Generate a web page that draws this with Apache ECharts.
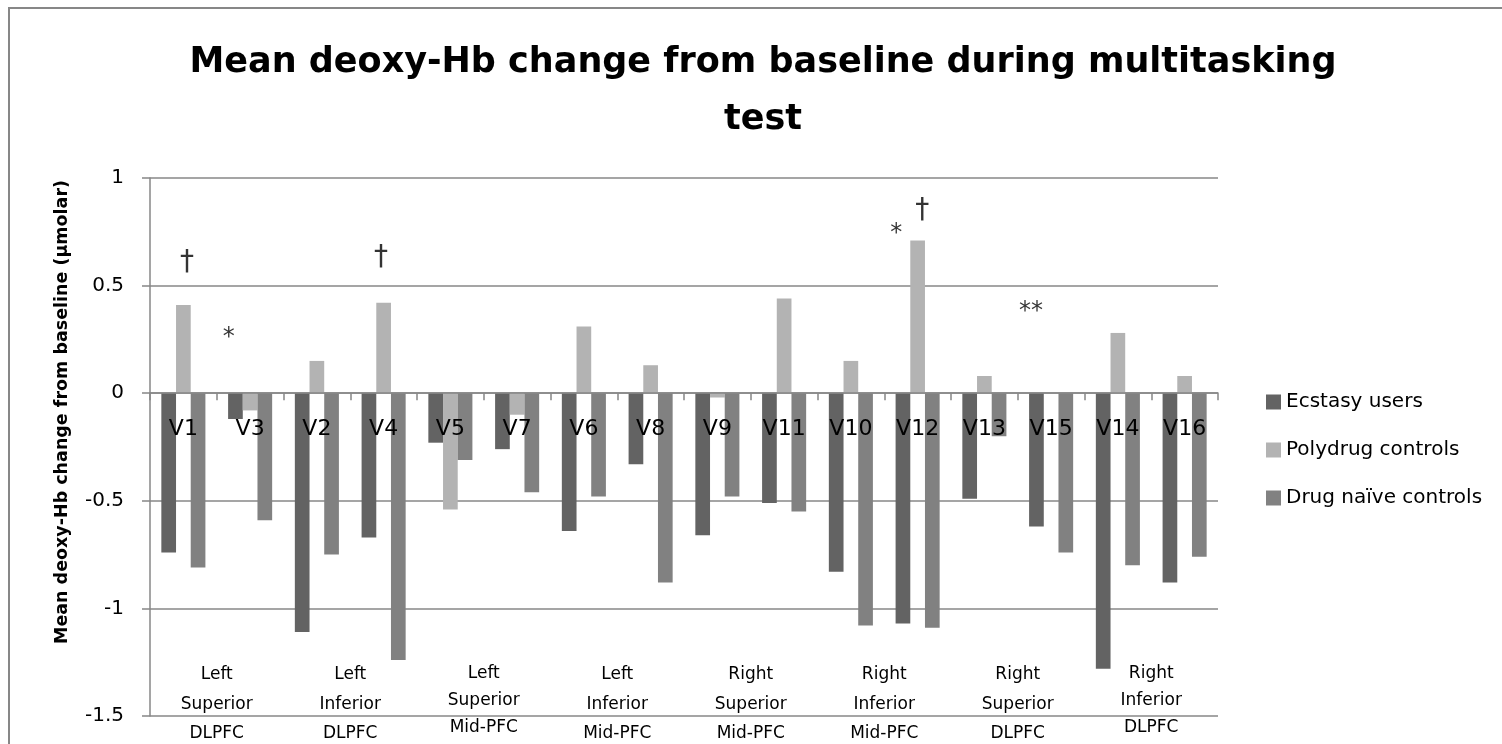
<!DOCTYPE html>
<html>
<head>
<meta charset="utf-8">
<script src="https://cdn.jsdelivr.net/npm/echarts@6/dist/echarts.min.js"></script>
<style>html,body{margin:0;padding:0;background:#fff}#c{width:1502px;height:744px}</style>
</head>
<body>
<div id="c"></div>
<script>
const categories = ['V1','V3','V2','V4','V5','V7','V6','V8','V9','V11','V10','V12','V13','V15','V14','V16'];
const ecstasyUsers = [-0.74,-0.12,-1.11,-0.67,-0.23,-0.26,-0.64,-0.33,-0.66,-0.51,-0.83,-1.07,-0.49,-0.62,-1.28,-0.88];
const polydrugControls = [0.41,-0.08,0.15,0.42,-0.54,-0.10,0.31,0.13,-0.02,0.44,0.15,0.71,0.08,0.00,0.28,0.08];
const drugNaiveControls = [-0.81,-0.59,-0.75,-1.24,-0.31,-0.46,-0.48,-0.88,-0.48,-0.55,-1.08,-1.09,-0.20,-0.74,-0.80,-0.76];
const regions = ['Left\nSuperior\nDLPFC','Left\nInferior\nDLPFC','Left\nSuperior\nMid-PFC','Left\nInferior\nMid-PFC','Right\nSuperior\nMid-PFC','Right\nInferior\nMid-PFC','Right\nSuperior\nDLPFC','Right\nInferior\nDLPFC'];
const seriesNames = ['Ecstasy users','Polydrug controls','Drug naïve controls'];
// significance markers: position in category units along x, value on y axis
const annoX = [0.554, 1.18, 3.46, 11.18, 11.57, 13.2];
const annoY = [0.605, 0.28, 0.63, 0.763, 0.85, 0.40];
const annoText = ['†','*','†','*','†','**'];
const yTicks = {min: -1.5, max: 1, interval: 0.5};

const FONT = 'DejaVu Sans';
const GRID = '#878787';
const gridH = 538;
// move category axis to the value 0 line
const zeroOffset = -gridH * (0 - yTicks.min) / (yTicks.max - yTicks.min);
// region text boxes that are set slightly tighter in the original
const tightRegionIdx = [2, 7];

const chart = echarts.init(document.getElementById('c'), null, {renderer: 'canvas'});

const annoData = annoX.map((x, i) => ({
  value: [x, annoY[i]],
  label: {
    formatter: annoText[i],
    fontSize: annoText[i] === '†' ? 28 : 24,
    offset: annoText[i] === '†' ? [0, 0] : [0, 5]
  }
}));

const regionData = regions.map((r, i) => tightRegionIdx.includes(i)
  ? {value: r, textStyle: {lineHeight: 27}}
  : r);

chart.setOption({
  animation: false,
  backgroundColor: '#fff',
  textStyle: {fontFamily: FONT, color: '#000'},
  title: {
    text: 'Mean deoxy-Hb change from baseline during multitasking\ntest',
    left: 758, textAlign: 'center', top: 29,
    textStyle: {fontFamily: FONT, fontWeight: 'bold', fontSize: 35, lineHeight: 57, color: '#000'}
  },
  graphic: [{
    type: 'rect', silent: true,
    shape: {x: 9, y: 8, width: 2000, height: 2000},
    style: {fill: 'none', stroke: GRID, lineWidth: 2}
  }],
  legend: {
    orient: 'vertical', left: 1261, top: 387,
    data: seriesNames,
    icon: 'rect', itemWidth: 15, itemHeight: 15, itemGap: 28,
    textStyle: {fontFamily: FONT, fontSize: 20, lineHeight: 20, color: '#000'}
  },
  grid: {left: 150, top: 178, width: 1068, height: gridH, containLabel: false, outerBoundsMode: 'none'},
  xAxis: [{
    type: 'category', data: categories, z: 10,
    position: 'bottom', offset: zeroOffset,
    axisLine: {onZero: false, lineStyle: {color: GRID, width: 1.5}},
    axisTick: {show: true, interval: 0, length: 7, lineStyle: {color: GRID, width: 1.5}},
    axisLabel: {interval: 0, margin: 25, fontFamily: FONT, fontSize: 22, color: '#000'},
    splitLine: {show: false}
  }, {
    type: 'category', data: regionData, position: 'bottom', z: 10,
    axisLine: {show: false, onZero: false}, axisTick: {show: false},
    axisLabel: {interval: 0, margin: -56, fontFamily: FONT, fontSize: 17, lineHeight: 29.5, color: '#000', align: 'center'},
    splitLine: {show: false}
  }, {
    type: 'value', min: 0, max: 16, show: false
  }],
  yAxis: {
    type: 'value', min: yTicks.min, max: yTicks.max, interval: yTicks.interval,
    name: 'Mean deoxy-Hb change from baseline (µmolar)',
    nameLocation: 'middle', nameGap: 79,
    nameTextStyle: {fontFamily: FONT, fontWeight: 'bold', fontSize: 17.5, color: '#000', padding: [0, 0, 0, 70]},
    axisLine: {show: true, onZero: false, lineStyle: {color: GRID, width: 1.5}},
    axisTick: {show: true, length: 8, lineStyle: {color: GRID, width: 1.5}},
    axisLabel: {margin: 26, fontFamily: FONT, fontSize: 20, color: '#000'},
    splitLine: {show: true, lineStyle: {color: GRID, width: 1.5}}
  },
  series: [
    {name: seriesNames[0], type: 'bar', data: ecstasyUsers, itemStyle: {color: '#636363'}, barGap: '0%', barCategoryGap: '34%'},
    {name: seriesNames[1], type: 'bar', data: polydrugControls, itemStyle: {color: '#b3b3b3'}, barGap: '0%', barCategoryGap: '34%'},
    {name: seriesNames[2], type: 'bar', data: drugNaiveControls, itemStyle: {color: '#818181'}, barGap: '0%', barCategoryGap: '34%'},
    {
      name: 'markers', type: 'scatter', xAxisIndex: 2, yAxisIndex: 0,
      symbolSize: 1, itemStyle: {color: 'rgba(0,0,0,0)'}, z: 12,
      label: {show: true, position: 'inside', fontFamily: FONT, color: '#000'},
      data: annoData
    }
  ]
});
</script>
</body>
</html>
